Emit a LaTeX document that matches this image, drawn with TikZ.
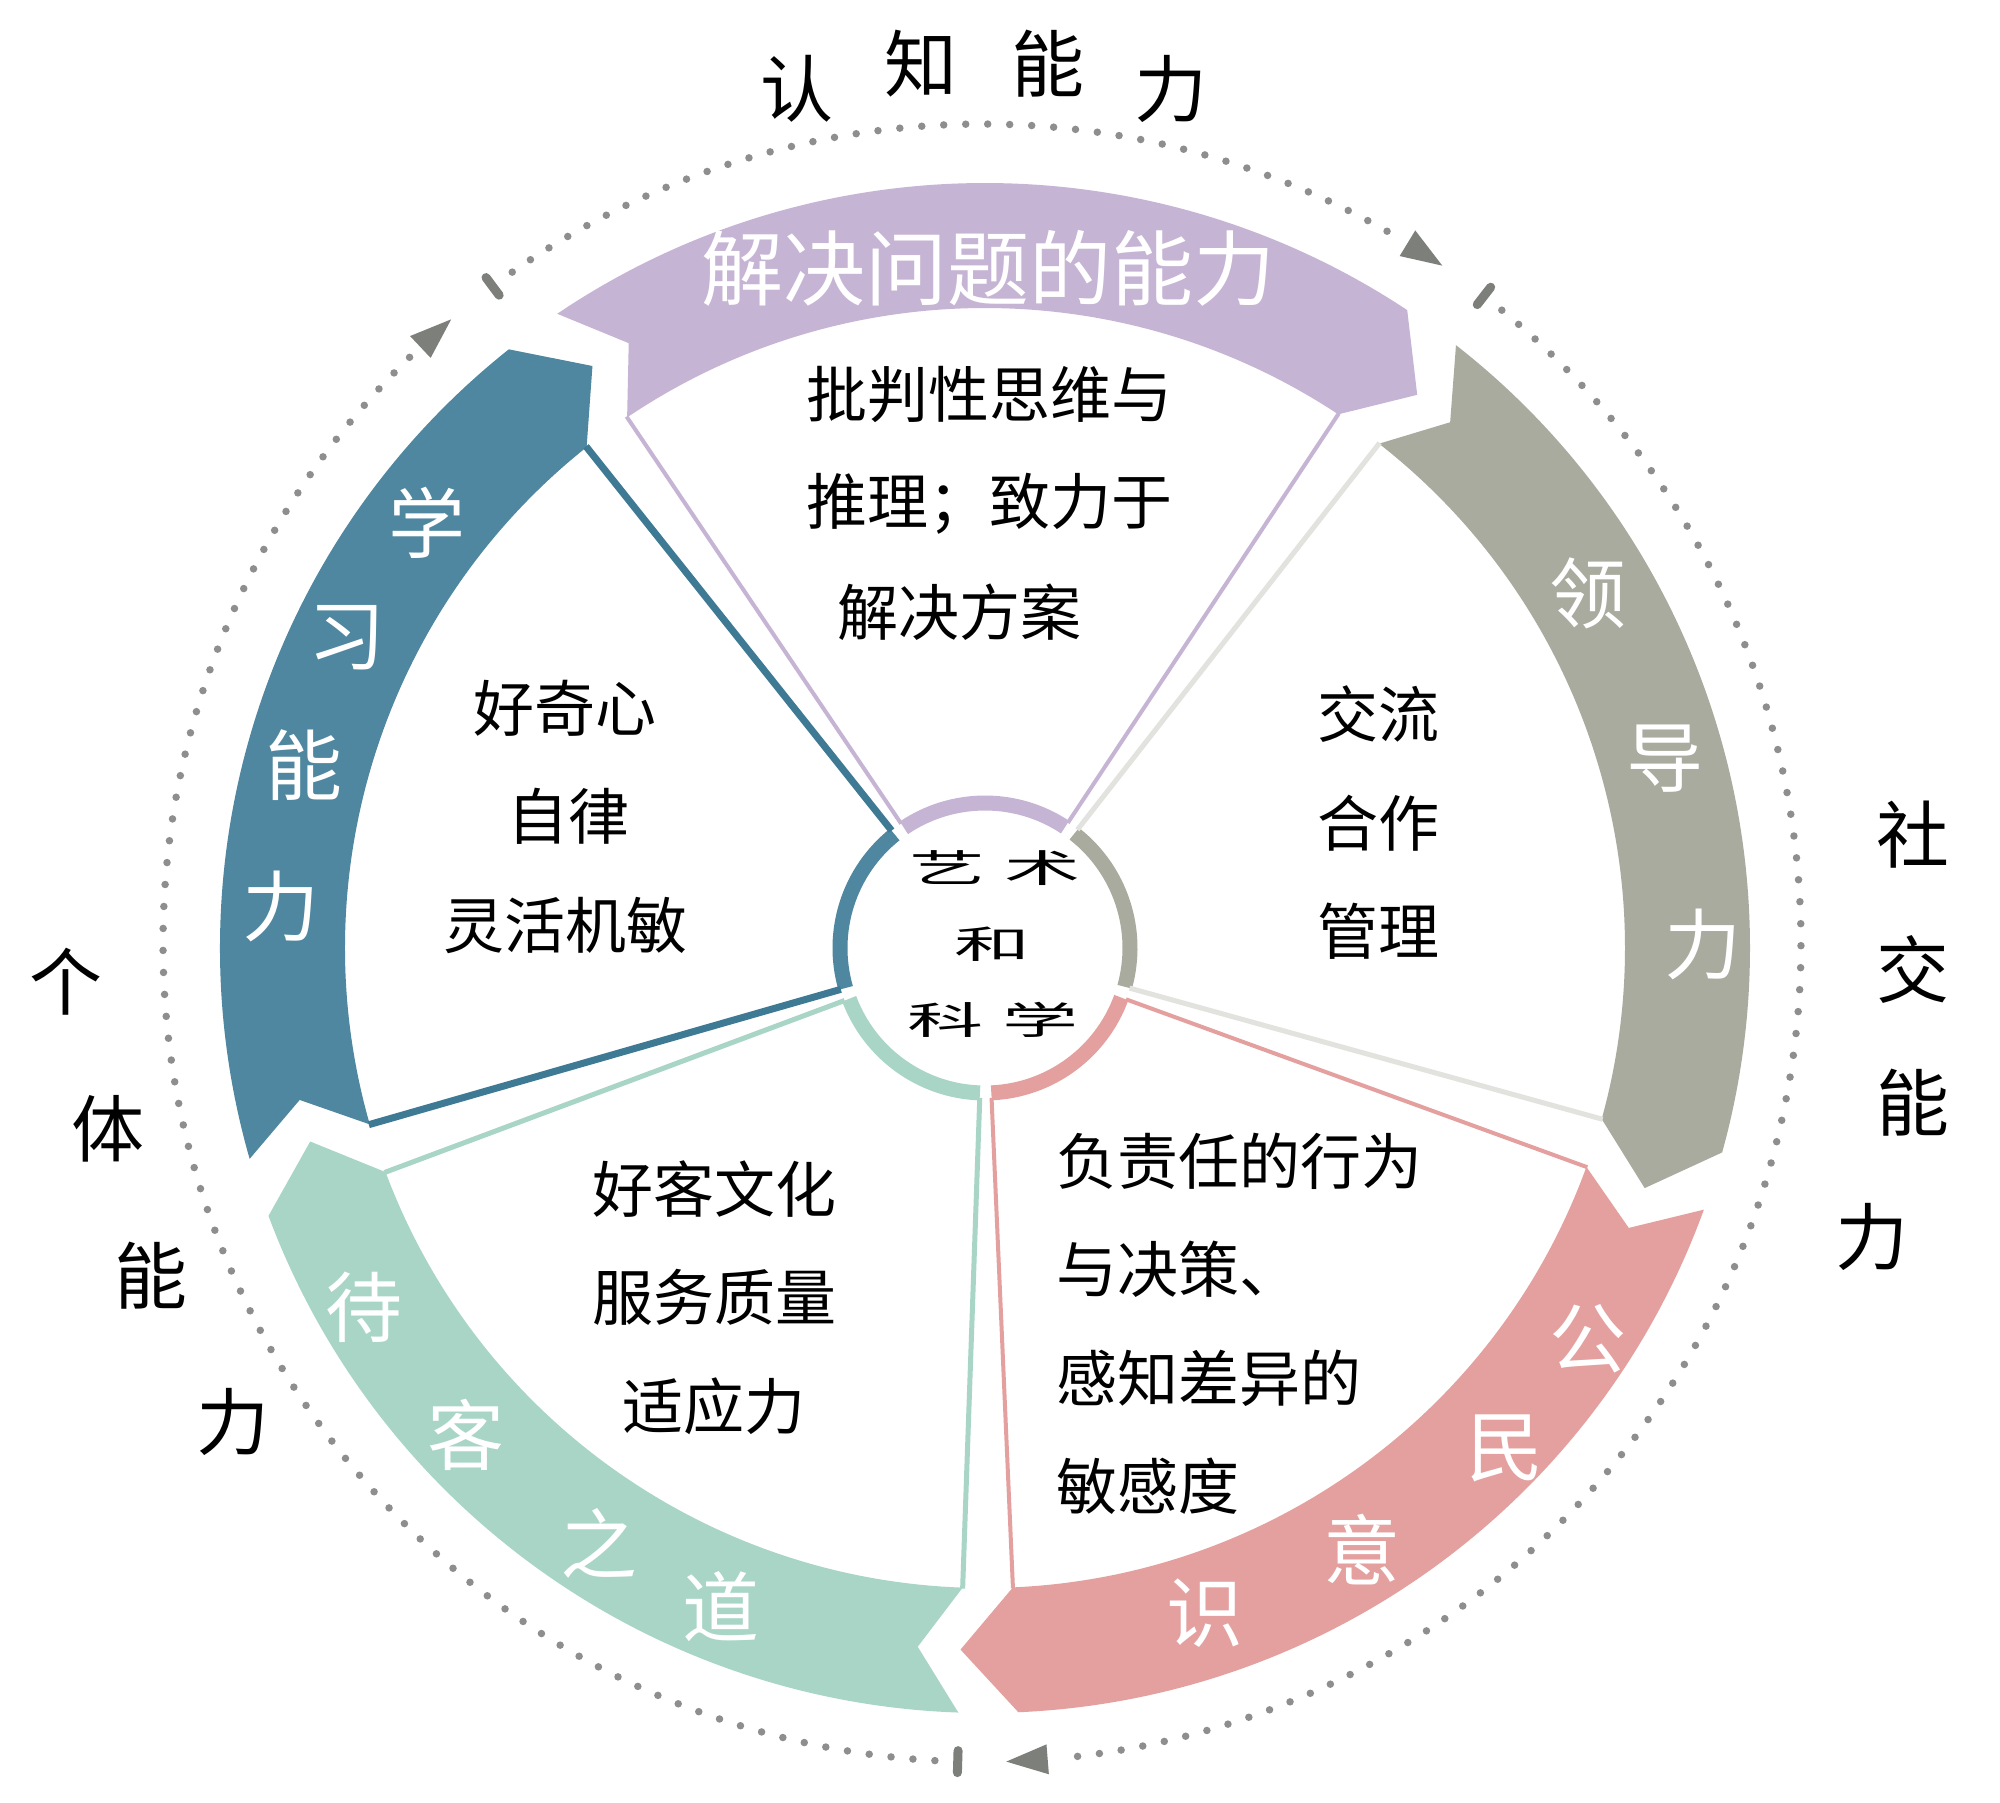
\documentclass[tikz,border=0pt]{standalone}
\usepackage{graphicx}
\usepackage{fontspec}
\setmainfont{Noto Sans CJK SC}
\usetikzlibrary{calc}
\definecolor{cPurple}{HTML}{C6B4D4}
\definecolor{cTeal}{HTML}{4E879F}
\definecolor{cTealLine}{HTML}{3F7A94}
\definecolor{cGrey}{HTML}{A9AB9E}
\definecolor{cGreyLine}{HTML}{E2E3DE}
\definecolor{cPink}{HTML}{E4A09E}
\definecolor{cMint}{HTML}{A8D5C5}
\definecolor{cDot}{HTML}{8E8E8E}
\definecolor{cArrow}{HTML}{7D7F7A}
\newcommand{\myband}[4]{%
  \pgfmathsetmacro{\myT}{#1+34}%
  \pgfmathsetmacro{\myN}{#1+30.5}%
  \pgfmathsetmacro{\myH}{#1-33.5}%
  \pgfmathsetmacro{\myP}{#1-38}%
  \fill[#2] ($(C)+(\myT:765)$) arc[start angle=\myT, end angle=\myH, radius=765]
     -- ($(C)+(\myP:702)$) -- ($(C)+(\myH:640)$)
     arc[start angle=\myH, end angle=\myT, radius=640]
     -- ($(C)+(\myN:702)$) -- cycle;
  \draw[#2, line width=15] ($(C)+(\myH:145)$) arc[start angle=\myH, end angle=\myT, radius=145];
  \draw[#3, line width=#4] ($(C)+(\myT:150)$) -- ($(C)+(\myT:641)$);
  \draw[#3, line width=#4] ($(C)+(\myH:150)$) -- ($(C)+(\myH:641)$);
}
\newcommand{\myarrowhead}[1]{%
  \pgfmathsetmacro{\myB}{#1+2.9}%
  \fill[cArrow] ($(D)+(#1:819)$) -- ($(D)+(\myB:834)$) -- ($(D)+(\myB:804)$) -- cycle;
}
\newcommand{\mybar}[1]{%
  \draw[cArrow, line width=9, line cap=round] ($(D)+(#1:808)$) -- ($(D)+(#1:830)$);
}
\tikzset{
  dotline/.style={cDot, line width=7.5, line cap=round, dash pattern=on 0pt off 22pt},
  wtxt/.style={font=\fontsize{61}{61}\selectfont, text=black, inner sep=0pt},
  blab/.style={font=\fontsize{77}{77}\selectfont, text=white, inner sep=0pt},
  ttl/.style={font=\fontsize{82}{82}\selectfont, text=white, inner sep=0pt},
  olab/.style={font=\fontsize{73}{73}\selectfont, text=black, inner sep=0pt},
  ctr/.style={font=\fontsize{76}{76}\selectfont, text=black, inner sep=0pt}
}
\begin{document}
\begin{tikzpicture}[x=1pt,y=1pt]
\useasboundingbox (0,0) rectangle (2000,-1803);
\fill[white] (0,0) rectangle (2000,-1803);
\coordinate (C) at (985,-948);
\coordinate (D) at (982,-943);

% outer dotted ring
\draw[dotline] ($(D)+(125:819)$) arc[start angle=125, end angle=59.3, radius=819];
\draw[dotline] ($(D)+(50.6:819)$) arc[start angle=50.6, end angle=-84.6, radius=819];
\draw[dotline] ($(D)+(-93.3:819)$) arc[start angle=-93.3, end angle=-226.6, radius=819];
\myarrowhead{55.8}
\myarrowhead{-88.3}
\myarrowhead{130.4}
\mybar{126.7}
\mybar{52.2}
\mybar{-91.7}

% bands, ring arcs and spokes
\myband{90}{cPurple}{cPurple}{4}
\myband{162}{cTeal}{cTealLine}{7}
\myband{234}{cMint}{cMint}{5}
\myband{306}{cPink}{cPink}{4}
\myband{18}{cGrey}{cGreyLine}{5}

% band labels
\node[ttl] (t0) at (988,-268) {解决问题的能力};
\node[blab] (t1) at (427,-523) {学};
\node[blab] (t2) at (347,-638) {习};
\node[blab] (t3) at (304,-765) {能};
\node[blab] (t4) at (281,-906) {力};
\node[blab] (g1) at (1588,-593) {领};
\node[blab] (g2) at (1665,-759) {导};
\node[blab] (g3) at (1703,-944) {力};
\node[blab] (p1) at (1588,-1339) {公};
\node[blab] (p2) at (1505,-1448) {民};
\node[blab] (p3) at (1362,-1550) {意};
\node[blab] (p4) at (1205,-1613) {识};
\node[blab] (m1) at (364,-1307) {待};
\node[blab] (m2) at (466,-1435) {客};
\node[blab] (m3) at (599,-1543) {之};
\node[blab] (m4) at (721,-1607) {道};

% wedge texts
\node[wtxt] (a1) at (989,-395) {批判性思维与};
\node[wtxt] (a2) at (989,-504) {推理；致力于};
\node[wtxt] (a3) at (959,-612) {解决方案};
\node[wtxt] (b1) at (565,-708) {好奇心};
\node[wtxt] (b2) at (568,-816) {自律};
\node[wtxt] (b3) at (565,-925) {灵活机敏};
\node[wtxt] (c1) at (1378,-714) {交流};
\node[wtxt] (c2) at (1378,-823) {合作};
\node[wtxt] (c3) at (1378,-931) {管理};
\node[wtxt, anchor=west] (d1) at (1056,-1161) {负责任的行为};
\node[wtxt, anchor=west] (d2) at (1056,-1269) {与决策、};
\node[wtxt, anchor=west] (d3) at (1056,-1378) {感知差异的};
\node[wtxt, anchor=west] (d4) at (1056,-1486) {敏感度};
\node[wtxt] (e1) at (714,-1189) {好客文化};
\node[wtxt] (e2) at (714,-1297) {服务质量};
\node[wtxt] (e3) at (714,-1406) {适应力};

% centre
\node[ctr] (z1) at (995,-868) {\scalebox{1}[0.5]{艺\hspace{20pt}术}};
\node[ctr] (z2) at (992,-944) {\scalebox{1}[0.5]{和}};
\node[ctr] (z3) at (993,-1020) {\scalebox{1}[0.5]{科\hspace{20pt}学}};

% outer labels
\node[olab] (o1) at (797,-89) {认};
\node[olab] (o2) at (921,-64) {知};
\node[olab] (o3) at (1048,-64) {能};
\node[olab] (o4) at (1171,-89) {力};
\node[olab] (r1) at (1913,-835) {社};
\node[olab] (r2) at (1913,-969) {交};
\node[olab] (r3) at (1913,-1103) {能};
\node[olab] (r4) at (1872,-1237) {力};
\node[olab] (l1) at (66,-982) {个};
\node[olab] (l2) at (108,-1129) {体};
\node[olab] (l3) at (151,-1276) {能};
\node[olab] (l4) at (233,-1422) {力};
\end{tikzpicture}
\end{document}
